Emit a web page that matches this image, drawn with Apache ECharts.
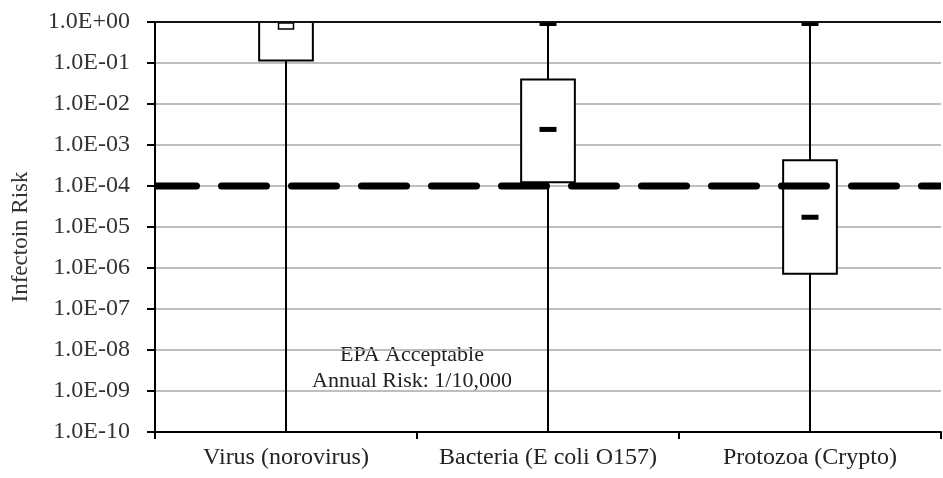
<!DOCTYPE html>
<html>
<head>
<meta charset="utf-8">
<script src="https://cdn.jsdelivr.net/npm/echarts@6/dist/echarts.min.js"></script>
<style>
  html, body { margin: 0; padding: 0; background: #fff; }
  #chart { width: 943px; height: 478px; }
</style>
</head>
<body>
<div id="chart"></div>
<script>
// Annual infection risk by pathogen group (log scale)
const categories = ['Virus (norovirus)', 'Bacteria (E coli O157)', 'Protozoa (Crypto)'];
const whiskerLow  = [1e-10, 1e-10, 1e-10];
const boxLow      = [0.115, 1.24e-4, 7.2e-7];
const medians     = [0.8, 2.4e-3, 1.73e-5];
const boxHigh     = [1.0, 0.0396, 4.26e-4];
const whiskerHigh = [1.0, 1.0, 1.0];
const acceptableRisk = 1e-4;           // EPA acceptable annual risk, 1/10,000
const axisTitle = 'Infectoin Risk';
const noteLines = ['EPA Acceptable', 'Annual Risk: 1/10,000'];

const SERIF = "'Liberation Serif', 'Times New Roman', serif";

const boxData = categories.map((c, i) => [i, whiskerLow[i], boxLow[i], medians[i], boxHigh[i], whiskerHigh[i]]);

function sciLabel(v) {
  const e = Math.round(Math.log10(v));
  const sign = e < 0 ? '-' : '+';
  const a = Math.abs(e);
  return '1.0E' + sign + (a < 10 ? '0' + a : '' + a);
}

function renderBox(params, api) {
  const i = api.value(0);
  const xc = api.coord([i, api.value(3)])[0];
  const band = api.coord([1, 1])[0] - api.coord([0, 1])[0];
  const yWLo = api.coord([i, api.value(1)])[1];
  const yBLo = api.coord([i, api.value(2)])[1];
  const yMed = api.coord([i, api.value(3)])[1];
  const yBHi = api.coord([i, api.value(4)])[1];
  const yWHi = api.coord([i, api.value(5)])[1];
  const bw = band * 0.205;
  const stroke = { stroke: '#000', lineWidth: 2 };
  const kids = [];
  if (yWLo - yBLo > 1) {
    kids.push({ type: 'line', shape: { x1: xc, y1: yBLo, x2: xc, y2: yWLo }, style: stroke });
  }
  if (yBHi - yWHi > 1) {
    kids.push({ type: 'line', shape: { x1: xc, y1: yWHi, x2: xc, y2: yBHi }, style: stroke });
    kids.push({ type: 'rect', shape: { x: xc - 8.5, y: yWHi, width: 17, height: 4 }, style: { fill: '#000' } });
  }
  kids.push({
    type: 'rect',
    shape: { x: xc - bw / 2, y: yBHi, width: bw, height: yBLo - yBHi },
    style: { fill: '#fff', stroke: '#000', lineWidth: 2 }
  });
  // median tick; drawn open when it sits against the box edge
  const nearEdge = (yMed - yBHi) < 8;
  kids.push({
    type: 'rect',
    shape: nearEdge ? { x: xc - 7.5, y: yMed - 3, width: 15, height: 6 } : { x: xc - 8.5, y: yMed - 2.5, width: 17, height: 5 },
    style: nearEdge ? { fill: '#fff', stroke: '#000', lineWidth: 1.5 } : { fill: '#000' }
  });
  return { type: 'group', children: kids };
}

// horizontal line across the whole plot area at a given risk level
function hLine(style) {
  return function (params, api) {
    const cs = params.coordSys;
    const y = api.coord([0, api.value(1)])[1];
    return { type: 'line', shape: { x1: cs.x, y1: y, x2: cs.x + cs.width, y2: y }, style: style };
  };
}

const chart = echarts.init(document.getElementById('chart'), null, { renderer: 'canvas' });

chart.setOption({
  animation: false,
  backgroundColor: '#fff',
  grid: { left: 155, right: 2, top: 22, bottom: 46, containLabel: false, outerBoundsMode: 'none' },
  xAxis: {
    type: 'category',
    data: categories,
    boundaryGap: true,
    axisLine: { lineStyle: { color: '#000', width: 2 } },
    axisTick: { show: true, length: 7, lineStyle: { color: '#000', width: 2 } },
    axisLabel: { margin: 14, fontFamily: SERIF, fontSize: 24, color: '#222', interval: 0 },
    splitLine: { show: false }
  },
  yAxis: {
    type: 'log',
    logBase: 10,
    min: 1e-10,
    max: 1,
    interval: 1,
    axisLine: { show: true, lineStyle: { color: '#000', width: 2 } },
    axisTick: { show: true, length: 8, lineStyle: { color: '#000', width: 2 } },
    axisLabel: { margin: 25, fontFamily: SERIF, fontSize: 24, color: '#333', formatter: sciLabel, showMinLabel: true, showMaxLabel: true },
    splitLine: { show: true, lineStyle: { color: '#a8a8a8', width: 1.5 } }
  },
  series: [
    {
      type: 'custom',
      name: 'Infection risk',
      renderItem: renderBox,
      data: boxData,
      encode: { x: 0, y: [1, 2, 3, 4, 5] },
      z: 2,
      silent: true
    },
    {
      type: 'custom',
      name: 'Acceptable risk',
      renderItem: hLine({ stroke: '#000', lineWidth: 7, lineDash: [45, 25], lineDashOffset: 3.5, lineCap: 'round' }),
      data: [[0, acceptableRisk]],
      encode: { x: 0, y: 1 },
      z: 5,
      silent: true,
      clip: true
    },
    {
      type: 'custom',
      name: 'Top edge',
      renderItem: hLine({ stroke: '#111', lineWidth: 2 }),
      data: [[0, 1]],
      encode: { x: 0, y: 1 },
      z: 4,
      silent: true,
      clip: false
    }
  ],
  graphic: [
    { type: 'text', x: 21, y: 237, rotation: Math.PI / 2,
      style: { text: axisTitle, font: "23px " + SERIF, fill: '#333', textAlign: 'center', textVerticalAlign: 'middle' } },
    { type: 'text', x: 412, y: 355,
      style: { text: noteLines[0], font: "22px " + SERIF, fill: '#222', textAlign: 'center', textVerticalAlign: 'middle' } },
    { type: 'text', x: 412, y: 381,
      style: { text: noteLines[1], font: "22px " + SERIF, fill: '#222', textAlign: 'center', textVerticalAlign: 'middle' } }
  ]
});
</script>
</body>
</html>
